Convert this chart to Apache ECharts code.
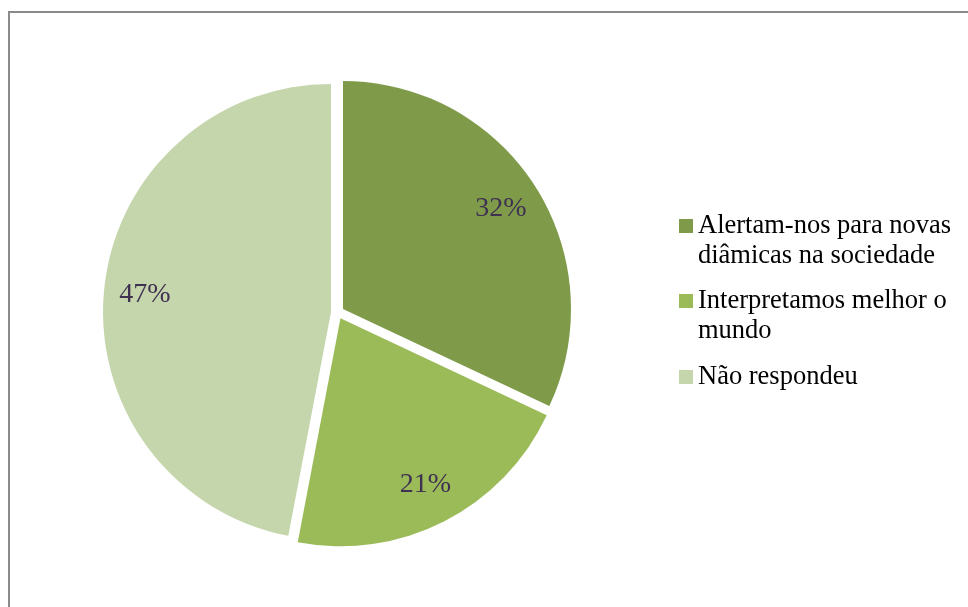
<!DOCTYPE html>
<html>
<head>
<meta charset="utf-8">
<script src="https://cdn.jsdelivr.net/npm/echarts@6/dist/echarts.min.js"></script>
<style>
html,body{margin:0;padding:0;background:#fff;}
#chart{width:968px;height:607px;}
</style>
</head>
<body>
<div id="chart"></div>
<script>
// ---- data ----
var categories = ['Alertam-nos para novas diâmicas na sociedade', 'Interpretamos melhor o mundo', 'Não respondeu'];
var legendLabels = ['Alertam-nos para novas\ndiâmicas na sociedade', 'Interpretamos melhor o\nmundo', 'Não respondeu'];
var values = [32, 21, 47];
var colors = ['#7f9b4a', '#9bbb59', '#c5d6ad'];

var SERIF = '"Liberation Serif", "Times New Roman", serif';
var cx = 337.5, cy = 312.5, R = 228, offset = 6.5;

var pieData = categories.map(function (n, i) {
  return { name: n, value: values[i], selected: true, itemStyle: { color: colors[i] } };
});
var labelData = categories.map(function (n, i) {
  return { name: n, value: values[i], selected: true };
});

var legendTops = [181, 256, 362];
var legends = categories.map(function (n, i) {
  var twoLine = legendLabels[i].indexOf('\n') >= 0;
  // a leading empty line keeps the first text line level with the legend square
  var txt = twoLine ? ' \n' + legendLabels[i] : legendLabels[i];
  return {
    data: [{ name: n, itemStyle: { color: colors[i] }, icon: 'rect' }],
    left: 679,
    top: legendTops[i],
    padding: 0,
    itemWidth: 14,
    itemHeight: 14,
    selectedMode: false,
    formatter: function () { return txt; },
    textStyle: {
      fontFamily: SERIF,
      fontSize: 26.5,
      color: '#000',
      lineHeight: 30
    }
  };
});

var chart = echarts.init(document.getElementById('chart'), null, { renderer: 'canvas' });
chart.setOption({
  animation: false,
  backgroundColor: '#fff',
  graphic: [{
    type: 'rect',
    shape: { x: 9, y: 12, width: 1100, height: 800 },
    style: { fill: 'none', stroke: '#8a8a8a', lineWidth: 2 },
    silent: true,
    z: 0
  }],
  legend: legends,
  series: [{
    type: 'pie',
    center: [cx, cy],
    radius: [0, R],
    startAngle: 90,
    clockwise: true,
    selectedMode: 'multiple',
    selectedOffset: offset,
    silent: true,
    label: { show: false },
    labelLine: { show: false },
    itemStyle: { borderWidth: 0 },
    select: { itemStyle: { borderWidth: 0 } },
    emphasis: { disabled: true },
    data: pieData,
    z: 2
  }, {
    type: 'pie',
    center: [cx, cy],
    radius: [140, R],
    startAngle: 90,
    clockwise: true,
    selectedMode: 'multiple',
    selectedOffset: offset,
    silent: true,
    legendHoverLink: false,
    avoidLabelOverlap: false,
    itemStyle: { color: 'rgba(0,0,0,0)', borderWidth: 0 },
    select: { itemStyle: { color: 'rgba(0,0,0,0)', borderWidth: 0 } },
    emphasis: { disabled: true },
    label: {
      show: true,
      position: 'inside',
      formatter: '{c}%',
      fontFamily: SERIF,
      fontSize: 28,
      color: '#3f3151',
      textBorderWidth: 0
    },
    labelLine: { show: false },
    data: labelData,
    z: 3
  }]
});
</script>
</body>
</html>
